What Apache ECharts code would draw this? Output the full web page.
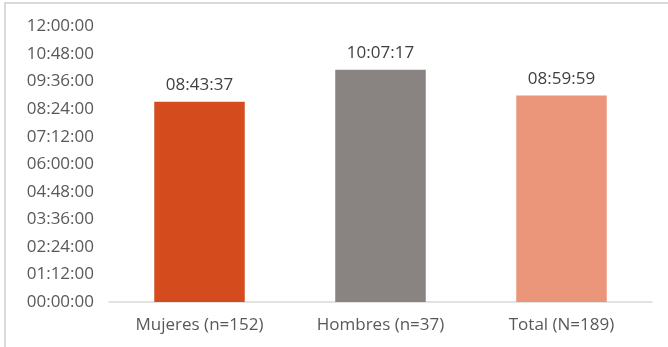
<!DOCTYPE html>
<html>
<head>
<meta charset="utf-8">
<script src="https://cdn.jsdelivr.net/npm/echarts@6/dist/echarts.min.js"></script>
<style>html,body{margin:0;padding:0;background:#fff}#c{width:668px;height:347px}</style>
</head>
<body>
<div id="c"></div>
<script>
const categories = ['Mujeres (n=152)', 'Hombres (n=37)', 'Total (N=189)'];
const durations = ['08:43:37', '10:07:17', '08:59:59'];
const barColors = ['#D44B1E', '#898382', '#EB967B'];
const axisMax = '12:00:00';
const axisStep = '01:12:00';

function toSec(s){const p=s.split(':').map(Number);return p[0]*3600+p[1]*60+p[2];}
function fmt(v){v=Math.round(v);const h=Math.floor(v/3600),m=Math.floor((v%3600)/60),s=v%60;return [h,m,s].map(x=>String(x).padStart(2,'0')).join(':');}

const values = durations.map(toSec);
const FONT = '"Open Sans", sans-serif';
const chart = echarts.init(document.getElementById('c'));
chart.setOption({
  animation:false,
  backgroundColor:'#fff',
  graphic:[{type:'rect',shape:{x:5,y:3,width:800,height:500},style:{fill:'none',stroke:'#d9d9d9',lineWidth:2},silent:true,z:-1}],
  grid:{left:109,right:16,top:26.5,bottom:45},
  xAxis:{type:'category',data:categories,
    axisLine:{lineStyle:{color:'#d9d9d9',width:1.5}},axisTick:{show:false},
    axisLabel:{color:'#595959',fontFamily:FONT,fontSize:17,margin:15}},
  yAxis:{type:'value',min:0,max:toSec(axisMax),interval:toSec(axisStep),
    splitLine:{show:false},axisLine:{show:false},axisTick:{show:false},
    axisLabel:{color:'#595959',fontFamily:FONT,fontSize:17,margin:15,formatter:fmt}},
  series:[{type:'bar',barWidth:'50%',
    data:values.map((v,i)=>({value:v,itemStyle:{color:barColors[i]}})),
    label:{show:true,position:'top',distance:8,color:'#404040',fontFamily:FONT,fontSize:17,formatter:p=>fmt(p.value)}}]
});
</script>
</body>
</html>
